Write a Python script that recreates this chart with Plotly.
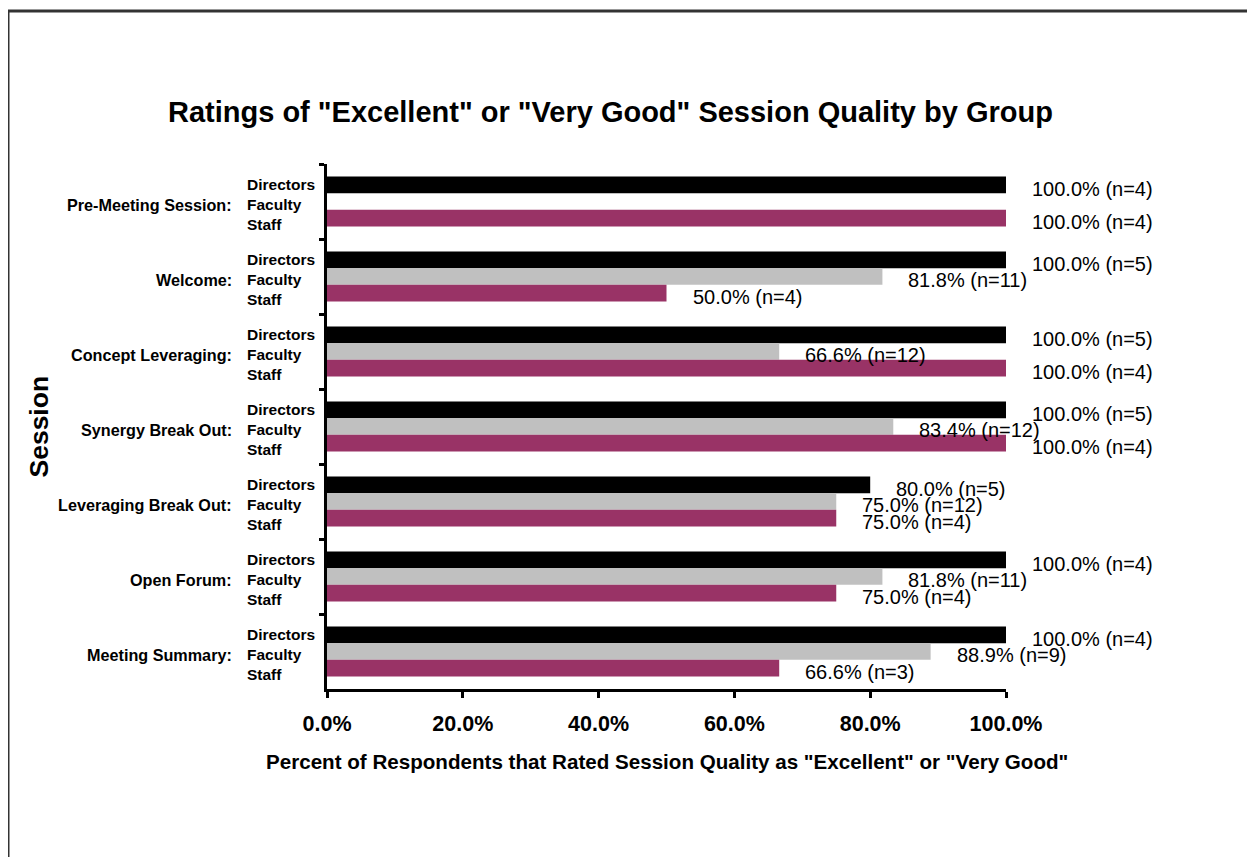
import plotly.graph_objects as go

# ---- data ----
sessions = ["Pre-Meeting Session", "Welcome", "Concept Leveraging", "Synergy Break Out",
            "Leveraging Break Out", "Open Forum", "Meeting Summary"]
groups = ["Directors", "Faculty", "Staff"]
directors_pct = [100.0, 100.0, 100.0, 100.0, 80.0, 100.0, 100.0]
directors_n = [4, 5, 5, 5, 5, 4, 4]
faculty_pct = [None, 81.8, 66.6, 83.4, 75.0, 81.8, 88.9]
faculty_n = [None, 11, 12, 12, 12, 11, 9]
staff_pct = [100.0, 50.0, 100.0, 100.0, 75.0, 75.0, 66.6]
staff_n = [4, 4, 4, 4, 4, 4, 3]
x_ticks = [0, 20, 40, 60, 80, 100]

FONT = "Liberation Sans, Arial, Helvetica, sans-serif"
colors = ["#000000", "#C0C0C0", "#993366"]

series = [
    ("Directors", directors_pct, directors_n),
    ("Faculty", faculty_pct, faculty_n),
    ("Staff", staff_pct, staff_n),
]

fig = go.Figure()
for (name, vals, ns), col in zip(series, colors):
    fig.add_trace(go.Bar(
        name=name, orientation="h", y=sessions,
        x=[None if v is None else v / 100 for v in vals],
        marker=dict(color=col, line=dict(width=0)),
        showlegend=False, hoverinfo="x+y+name",
    ))

annotations = []
# data labels
bar_shift = [13, -3, -20]
for gi, (name, vals, ns) in enumerate(series):
    for s, v, n in zip(sessions, vals, ns):
        if v is None:
            continue
        annotations.append(dict(
            x=v / 100, y=s, xref="x", yref="y", text=f"{v:.1f}% (n={n})",
            showarrow=False, xanchor="left", yanchor="middle",
            xshift=24, yshift=bar_shift[gi],
            font=dict(family=FONT, size=20, color="#000000"),
        ))

# category labels
sub_shift = [17, -3, -23]
for s in sessions:
    annotations.append(dict(
        x=-0.137, y=s, xref="paper", yref="y", text=s + ":",
        showarrow=False, xanchor="right", yanchor="middle", yshift=-3,
        font=dict(family=FONT, size=16.2, color="#000000", weight="bold"),
    ))
    for g, sh in zip(groups, sub_shift):
        annotations.append(dict(
            x=-0.1208, y=s, xref="paper", yref="y", text=g,
            showarrow=False, xanchor="left", yanchor="middle", yshift=sh,
            font=dict(family=FONT, size=15.5, color="#000000", weight="bold"),
        ))

# titles
annotations.append(dict(
    x=0.418, y=1.099, xref="paper", yref="paper",
    text='Ratings of "Excellent" or "Very Good" Session Quality by Group',
    showarrow=False, xanchor="center", yanchor="middle",
    font=dict(family=FONT, size=29, color="#000000", weight="bold"),
))
annotations.append(dict(
    x=0.5, y=-0.139, xref="paper", yref="paper",
    text='Percent of Respondents that Rated Session Quality as "Excellent" or "Very Good"',
    showarrow=False, xanchor="center", yanchor="middle",
    font=dict(family=FONT, size=20.6, color="#000000", weight="bold"),
))
annotations.append(dict(
    x=-0.4256, y=0.5, xref="paper", yref="paper", text="Session", textangle=-90,
    showarrow=False, xanchor="center", yanchor="middle",
    font=dict(family=FONT, size=26.5, color="#000000", weight="bold"),
))

shapes = [
    dict(type="line", xref="paper", yref="paper", x0=-0.4698, x1=-0.4698, y0=-0.36, y1=1.2914,
         line=dict(color="#333333", width=3)),
    dict(type="line", xref="paper", yref="paper", x0=-0.4720, x1=1.40, y0=1.2914, y1=1.2914,
         line=dict(color="#333333", width=3)),
]

fig.update_layout(
    width=1255, height=857,
    margin=dict(l=319, r=257, t=156, b=176, pad=0),
    paper_bgcolor="white", plot_bgcolor="white",
    barmode="group", bargap=0.333, bargroupgap=0,
    annotations=annotations, shapes=shapes,
    font=dict(family=FONT, color="#000000"),
    showlegend=False,
)
fig.update_xaxes(
    range=[0, 1], tickvals=[t / 100 for t in x_ticks], tickformat=".1%",
    ticks="outside", ticklen=6, tickwidth=3, tickcolor="#000000",
    showline=True, linewidth=3, linecolor="#000000",
    showgrid=False, zeroline=False, ticklabelstandoff=7,
    tickfont=dict(family=FONT, size=21.5, color="#000000", weight="bold"),
)
fig.update_yaxes(
    type="category", categoryorder="array", categoryarray=sessions,
    autorange="reversed", showticklabels=False,
    ticks="outside", tickson="boundaries", ticklen=5, tickwidth=3, tickcolor="#000000",
    showline=True, linewidth=3, linecolor="#000000", showgrid=False, zeroline=False,
)

fig.write_html("out.html")
